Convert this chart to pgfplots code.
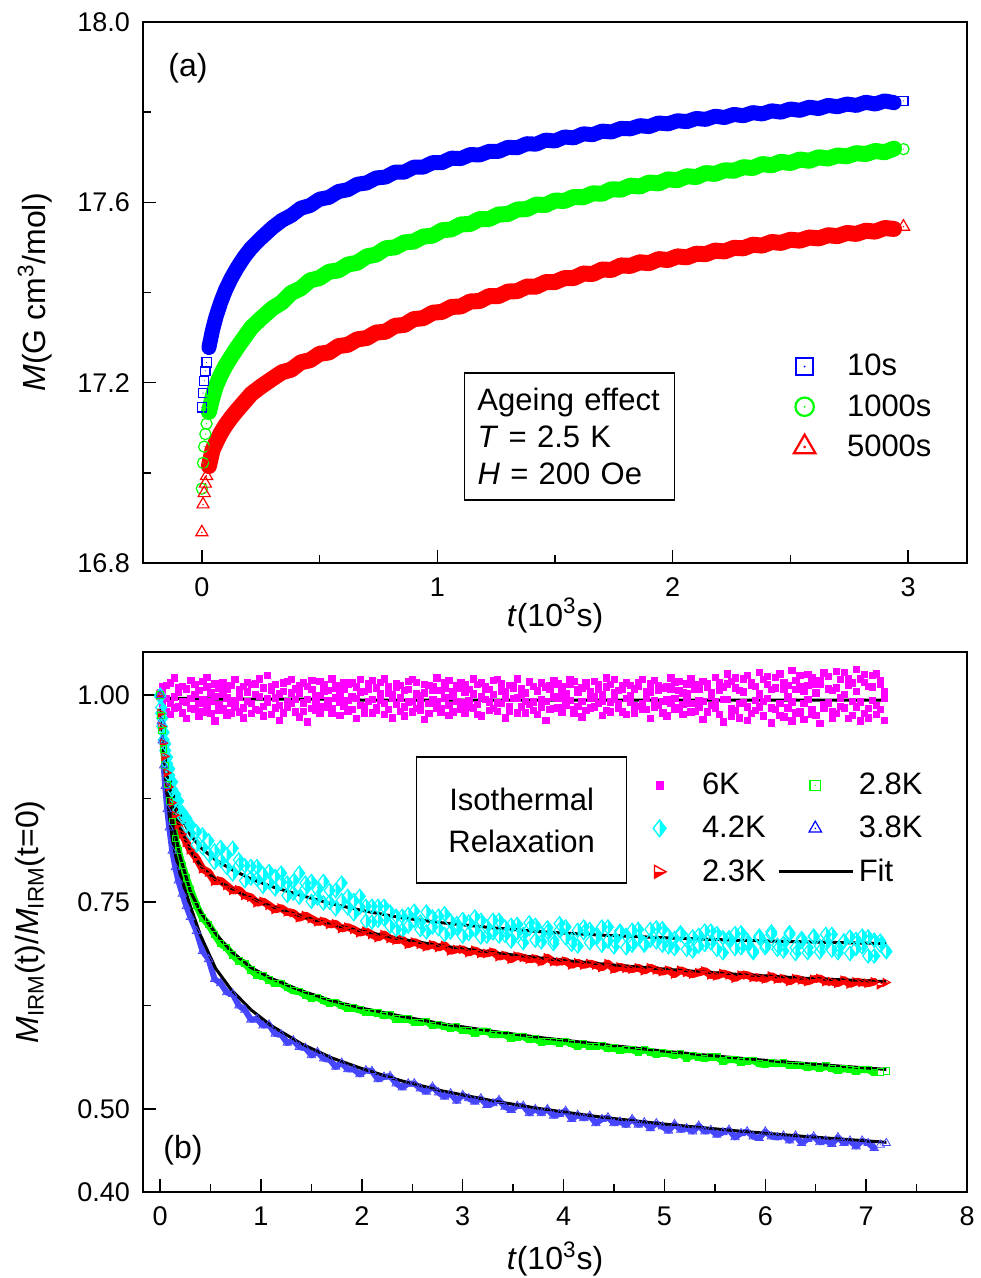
\documentclass[border=0pt]{standalone}
\usepackage{fontspec}
\setmainfont{Liberation Sans}
\usepackage{pgfplots}
\usepackage{pgfplotstable}
\pgfplotsset{compat=1.18}
\definecolor{mag}{RGB}{255,0,255}
\definecolor{cya}{RGB}{0,255,255}
\definecolor{grn}{RGB}{0,255,0}
\definecolor{lblue}{RGB}{70,70,255}

\pgfdeclareplotmark{sqdot}{%
  \pgfpathrectangle{\pgfpoint{-\pgfplotmarksize}{-\pgfplotmarksize}}{\pgfpoint{2\pgfplotmarksize}{2\pgfplotmarksize}}%
  \pgfusepathqstroke
  \pgfpathcircle{\pgfpointorigin}{0.12\pgfplotmarksize}\pgfusepathqfill}
\pgfdeclareplotmark{cdot}{%
  \pgfpathcircle{\pgfpointorigin}{\pgfplotmarksize}\pgfusepathqstroke
  \pgfpathcircle{\pgfpointorigin}{0.12\pgfplotmarksize}\pgfusepathqfill}
\pgfdeclareplotmark{tdot}{%
  \pgfpathmoveto{\pgfpointpolar{90}{\pgfplotmarksize}}%
  \pgfpathlineto{\pgfpointpolar{-30}{\pgfplotmarksize}}%
  \pgfpathlineto{\pgfpointpolar{210}{\pgfplotmarksize}}%
  \pgfpathclose\pgfusepathqstroke
  \pgfpathcircle{\pgfpointorigin}{0.12\pgfplotmarksize}\pgfusepathqfill}
\pgfdeclareplotmark{hdiamond}{%
  \pgfpathmoveto{\pgfpoint{0pt}{1.3\pgfplotmarksize}}%
  \pgfpathlineto{\pgfpoint{\pgfplotmarksize}{0pt}}%
  \pgfpathlineto{\pgfpoint{0pt}{-1.3\pgfplotmarksize}}%
  \pgfpathclose\pgfusepathqfill
  \pgfpathmoveto{\pgfpoint{0pt}{1.3\pgfplotmarksize}}%
  \pgfpathlineto{\pgfpoint{\pgfplotmarksize}{0pt}}%
  \pgfpathlineto{\pgfpoint{0pt}{-1.3\pgfplotmarksize}}%
  \pgfpathlineto{\pgfpoint{-\pgfplotmarksize}{0pt}}%
  \pgfpathclose\pgfusepathqstroke}
\pgfdeclareplotmark{htri}{%
  \pgfpathmoveto{\pgfpoint{-0.8\pgfplotmarksize}{0pt}}%
  \pgfpathlineto{\pgfpoint{\pgfplotmarksize}{0pt}}%
  \pgfpathlineto{\pgfpoint{-0.8\pgfplotmarksize}{-\pgfplotmarksize}}%
  \pgfpathclose\pgfusepathqfill
  \pgfpathmoveto{\pgfpoint{-0.8\pgfplotmarksize}{\pgfplotmarksize}}%
  \pgfpathlineto{\pgfpoint{\pgfplotmarksize}{0pt}}%
  \pgfpathlineto{\pgfpoint{-0.8\pgfplotmarksize}{-\pgfplotmarksize}}%
  \pgfpathclose\pgfusepathqstroke}

\pgfplotstableread{
t b g r
0 17.145 16.965 16.868
0.005 17.177 17.022 16.930
0.01 17.204 17.058 16.955
0.015 17.226 17.086 16.976
0.02 17.245 17.109 16.993
0.03 17.278 17.135 17.015
0.045 17.316 17.167 17.050
0.06 17.346 17.193 17.067
0.08 17.378 17.217 17.088
0.10 17.405 17.237 17.105
0.125 17.432 17.258 17.123
0.15 17.455 17.278 17.139
0.18 17.479 17.300 17.157
0.21 17.499 17.322 17.175
0.25 17.520 17.342 17.191
0.30 17.544 17.365 17.209
0.34 17.560 17.378 17.223
0.38 17.571 17.399 17.229
0.42 17.587 17.409 17.245
0.46 17.593 17.427 17.250
0.50 17.607 17.432 17.264
0.54 17.611 17.446 17.267
0.58 17.624 17.449 17.281
0.62 17.628 17.462 17.284
0.66 17.640 17.466 17.296
0.70 17.643 17.480 17.299
0.74 17.654 17.484 17.311
0.78 17.656 17.498 17.313
0.82 17.667 17.500 17.326
0.86 17.667 17.511 17.328
0.90 17.678 17.513 17.341
0.94 17.678 17.524 17.343
0.98 17.688 17.526 17.355
1.02 17.688 17.538 17.357
1.06 17.698 17.540 17.368
1.10 17.697 17.551 17.369
1.14 17.706 17.552 17.380
1.18 17.705 17.563 17.381
1.22 17.713 17.563 17.392
1.26 17.713 17.573 17.392
1.30 17.722 17.574 17.402
1.34 17.721 17.584 17.403
1.38 17.730 17.585 17.413
1.42 17.729 17.595 17.413
1.46 17.738 17.594 17.423
1.50 17.736 17.604 17.423
1.54 17.745 17.603 17.432
1.58 17.743 17.612 17.432
1.62 17.752 17.611 17.442
1.66 17.750 17.620 17.441
1.70 17.758 17.619 17.451
1.74 17.756 17.629 17.450
1.78 17.764 17.628 17.460
1.82 17.763 17.637 17.459
1.86 17.770 17.635 17.467
1.90 17.768 17.644 17.465
1.94 17.776 17.642 17.474
1.98 17.774 17.651 17.472
2.02 17.781 17.649 17.480
2.06 17.779 17.658 17.478
2.10 17.786 17.656 17.486
2.14 17.784 17.665 17.485
2.18 17.791 17.663 17.493
2.22 17.788 17.671 17.491
2.26 17.795 17.670 17.499
2.30 17.792 17.678 17.498
2.34 17.799 17.676 17.506
2.38 17.796 17.685 17.504
2.42 17.803 17.682 17.512
2.46 17.800 17.690 17.510
2.50 17.807 17.687 17.517
2.54 17.804 17.695 17.515
2.58 17.811 17.692 17.522
2.62 17.808 17.700 17.520
2.66 17.815 17.697 17.527
2.70 17.812 17.704 17.525
2.74 17.818 17.702 17.532
2.78 17.815 17.709 17.530
2.82 17.822 17.707 17.537
2.86 17.818 17.714 17.535
2.90 17.825 17.711 17.543
2.94 17.821 17.719 17.541
2.98 17.825 17.718 17.546
}\topdata

\pgfplotstableread{
t cy1 cy2 rd gr bl
0 1.000 0.998 1.000 1.000 1.000
0.01 0.985 0.978 0.978 0.975 0.968
0.02 0.972 0.962 0.962 0.957 0.945
0.035 0.955 0.946 0.942 0.935 0.915
0.05 0.941 0.933 0.926 0.915 0.890
0.07 0.925 0.917 0.906 0.892 0.862
0.09 0.911 0.903 0.889 0.872 0.840
0.12 0.895 0.886 0.870 0.847 0.812
0.15 0.880 0.874 0.855 0.827 0.792
0.18 0.872 0.861 0.843 0.812 0.776
0.22 0.858 0.853 0.832 0.794 0.760
0.26 0.851 0.842 0.822 0.779 0.745
0.30 0.843 0.833 0.813 0.765 0.732
0.36 0.835 0.819 0.803 0.746 0.715
0.42 0.816 0.831 0.790 0.731 0.691
0.48 0.824 0.808 0.786 0.723 0.681
0.54 0.798 0.812 0.775 0.711 0.657
0.60 0.816 0.801 0.776 0.700 0.652
0.66 0.792 0.807 0.770 0.695 0.641
0.72 0.815 0.784 0.764 0.686 0.639
0.78 0.794 0.801 0.765 0.679 0.625
0.84 0.776 0.794 0.758 0.676 0.620
0.90 0.793 0.779 0.756 0.668 0.608
0.96 0.778 0.793 0.749 0.662 0.609
1.02 0.784 0.769 0.751 0.661 0.601
1.08 0.787 0.774 0.746 0.656 0.602
1.14 0.766 0.781 0.741 0.652 0.591
1.20 0.774 0.785 0.743 0.652 0.590
1.26 0.758 0.773 0.738 0.647 0.580
1.32 0.775 0.761 0.737 0.643 0.583
1.38 0.785 0.756 0.731 0.642 0.575
1.44 0.766 0.773 0.734 0.638 0.574
1.50 0.751 0.775 0.730 0.634 0.565
1.56 0.765 0.755 0.726 0.635 0.569
1.62 0.775 0.749 0.727 0.631 0.561
1.68 0.750 0.764 0.723 0.628 0.560
1.74 0.764 0.742 0.724 0.629 0.551
1.80 0.773 0.752 0.718 0.625 0.556
1.86 0.743 0.757 0.720 0.622 0.548
1.92 0.752 0.736 0.717 0.622 0.548
1.98 0.757 0.744 0.713 0.620 0.542
2.04 0.745 0.727 0.715 0.617 0.547
2.10 0.745 0.726 0.711 0.617 0.546
2.16 0.728 0.745 0.707 0.616 0.536
2.22 0.745 0.730 0.711 0.613 0.539
2.28 0.721 0.738 0.706 0.614 0.540
2.34 0.733 0.717 0.704 0.609 0.531
2.40 0.716 0.733 0.705 0.609 0.526
2.46 0.735 0.721 0.699 0.609 0.531
2.52 0.728 0.739 0.702 0.605 0.531
2.58 0.717 0.726 0.699 0.605 0.525
2.64 0.738 0.714 0.696 0.606 0.521
2.70 0.720 0.732 0.699 0.601 0.527
2.76 0.733 0.718 0.695 0.602 0.520
2.82 0.711 0.736 0.698 0.600 0.515
2.88 0.727 0.714 0.691 0.598 0.519
2.94 0.719 0.724 0.693 0.599 0.510
3.00 0.729 0.709 0.693 0.595 0.517
3.06 0.712 0.726 0.689 0.595 0.513
3.12 0.732 0.717 0.692 0.592 0.509
3.18 0.708 0.728 0.688 0.594 0.513
3.24 0.720 0.709 0.688 0.594 0.505
3.30 0.728 0.713 0.690 0.590 0.507
3.36 0.709 0.728 0.684 0.590 0.511
3.42 0.720 0.710 0.686 0.590 0.503
3.48 0.703 0.722 0.681 0.586 0.499
3.54 0.723 0.713 0.685 0.587 0.504
3.60 0.711 0.701 0.683 0.588 0.504
3.66 0.725 0.718 0.681 0.584 0.495
3.72 0.704 0.722 0.682 0.585 0.500
3.78 0.712 0.702 0.678 0.581 0.495
3.84 0.719 0.714 0.683 0.582 0.500
3.90 0.700 0.704 0.678 0.582 0.492
3.96 0.716 0.724 0.678 0.580 0.494
4.02 0.720 0.707 0.679 0.582 0.498
4.08 0.704 0.699 0.674 0.579 0.488
4.14 0.697 0.716 0.677 0.576 0.493
4.20 0.713 0.720 0.674 0.579 0.489
4.26 0.717 0.701 0.676 0.576 0.492
4.32 0.708 0.710 0.674 0.576 0.483
4.38 0.698 0.720 0.671 0.577 0.488
4.44 0.720 0.703 0.676 0.573 0.490
4.50 0.703 0.696 0.669 0.574 0.483
4.56 0.713 0.715 0.672 0.571 0.485
4.62 0.695 0.710 0.670 0.572 0.481
4.68 0.716 0.698 0.669 0.572 0.488
4.74 0.708 0.717 0.671 0.569 0.481
4.80 0.698 0.700 0.667 0.572 0.484
4.86 0.717 0.704 0.671 0.569 0.477
4.92 0.702 0.719 0.668 0.566 0.483
4.98 0.718 0.698 0.666 0.568 0.479
5.04 0.696 0.709 0.668 0.567 0.474
5.10 0.706 0.694 0.663 0.565 0.482
5.16 0.711 0.713 0.668 0.567 0.475
5.22 0.693 0.704 0.665 0.562 0.477
5.28 0.708 0.691 0.663 0.565 0.473
5.34 0.697 0.710 0.665 0.563 0.480
5.40 0.715 0.699 0.667 0.561 0.473
5.46 0.701 0.715 0.662 0.563 0.475
5.52 0.712 0.693 0.661 0.563 0.469
5.58 0.689 0.707 0.664 0.558 0.472
5.64 0.707 0.704 0.662 0.560 0.475
5.70 0.712 0.694 0.658 0.560 0.466
5.76 0.695 0.713 0.662 0.557 0.471
5.82 0.704 0.700 0.662 0.558 0.473
5.88 0.691 0.689 0.659 0.559 0.467
5.94 0.709 0.707 0.659 0.555 0.465
6.00 0.698 0.695 0.657 0.554 0.473
6.06 0.714 0.711 0.661 0.556 0.467
6.12 0.693 0.698 0.657 0.555 0.466
6.18 0.700 0.691 0.658 0.556 0.468
6.24 0.711 0.713 0.654 0.553 0.462
6.30 0.688 0.695 0.658 0.553 0.468
6.36 0.706 0.703 0.656 0.553 0.459
6.42 0.695 0.689 0.654 0.550 0.464
6.48 0.709 0.708 0.657 0.552 0.467
6.54 0.690 0.697 0.658 0.549 0.460
6.60 0.701 0.711 0.654 0.552 0.462
6.66 0.711 0.692 0.654 0.549 0.458
6.72 0.693 0.689 0.652 0.547 0.466
6.78 0.703 0.703 0.656 0.549 0.459
6.84 0.688 0.708 0.651 0.548 0.462
6.90 0.705 0.694 0.654 0.546 0.455
6.96 0.696 0.709 0.653 0.548 0.462
7.02 0.708 0.685 0.652 0.548 0.459
7.08 0.685 0.704 0.654 0.544 0.453
7.14 0.703 0.698 0.650 0.545 0.457
7.20 0.691 0.690 0.653 0.546 0.459
}\botdata

\pgfplotstableread{
t f6 fc fr fg fb
0 1.000 1.000 1.000 1.000 1.000
0.01 0.999 0.983 0.982 0.980 0.978
0.02 0.998 0.970 0.967 0.963 0.958
0.035 0.997 0.952 0.946 0.940 0.930
0.05 0.997 0.937 0.930 0.920 0.905
0.07 0.996 0.920 0.910 0.897 0.877
0.09 0.996 0.905 0.893 0.877 0.855
0.12 0.996 0.887 0.873 0.852 0.827
0.15 0.996 0.873 0.858 0.832 0.808
0.2 0.996 0.855 0.839 0.804 0.783
0.3 0.996 0.831 0.812 0.763 0.745
0.4 0.996 0.816 0.794 0.738 0.710
0.55 0.995 0.801 0.777 0.712 0.670
0.7 0.995 0.790 0.767 0.691 0.645
0.9 0.995 0.778 0.755 0.671 0.620
1.1 0.995 0.769 0.745 0.658 0.601
1.4 0.995 0.758 0.733 0.643 0.579
1.7 0.995 0.748 0.723 0.631 0.562
2.0 0.994 0.740 0.715 0.622 0.549
2.4 0.994 0.731 0.705 0.612 0.534
2.8 0.994 0.725 0.697 0.603 0.522
3.3 0.994 0.719 0.689 0.594 0.510
3.8 0.994 0.714 0.682 0.586 0.500
4.4 0.994 0.710 0.675 0.578 0.490
5.0 0.994 0.707 0.669 0.570 0.482
5.7 0.994 0.704 0.663 0.562 0.474
6.4 0.994 0.702 0.658 0.555 0.467
7.2 0.994 0.700 0.654 0.548 0.460
}\fitdata

\pgfplotstableread{
t m1 m2 m3
0.00 1.000 0.998 1.003
0.02 1.003 0.988 1.010
0.06 0.981 1.012 0.996
0.10 1.015 0.990 0.977
0.14 0.998 1.021 0.985
0.18 0.986 1.004 1.009
0.22 1.011 0.979 0.993
0.26 0.992 1.008 0.972
0.30 1.018 0.996 0.984
0.34 0.983 1.013 1.001
0.38 1.006 0.975 0.990
0.42 0.995 1.017 0.980
0.46 1.010 0.987 1.022
0.50 0.978 1.003 0.993
0.54 1.014 0.969 0.999
0.58 0.989 1.009 0.982
0.62 1.002 0.984 1.016
0.66 0.976 0.997 1.007
0.70 1.012 0.991 0.979
0.74 0.994 1.019 0.986
0.78 1.007 0.980 0.998
0.82 0.985 1.011 0.973
0.86 1.016 0.993 1.004
0.90 0.990 0.978 1.013
0.94 1.001 1.014 0.983
0.98 0.982 0.999 1.020
1.02 1.009 0.987 0.975
1.06 0.996 1.024 0.992
1.10 0.977 1.006 1.010
1.14 1.013 0.985 0.997
1.18 0.988 1.002 0.970
1.22 1.005 0.979 1.015
1.26 0.993 1.017 0.986
1.30 1.019 0.990 1.003
1.34 0.980 1.008 0.995
1.38 1.003 0.974 1.012
1.42 0.991 1.015 0.981
1.46 1.011 0.995 0.968
1.50 0.984 1.007 1.018
1.54 0.999 0.982 0.990
1.58 1.017 1.000 0.978
1.62 0.986 1.013 1.005
1.66 1.006 0.989 0.994
1.70 0.978 1.020 0.984
1.74 1.012 0.997 1.009
1.78 0.992 0.976 1.001
1.82 1.008 1.016 0.987
1.86 0.981 0.994 1.014
1.90 1.015 0.983 0.998
1.94 0.996 1.010 0.972
1.98 1.004 0.988 1.019
2.02 0.987 1.005 0.979
2.06 1.014 0.993 1.008
2.10 0.979 1.018 0.995
2.14 1.009 0.985 0.982
2.18 0.994 1.002 1.016
2.22 1.020 0.977 0.990
2.26 0.983 1.011 1.003
2.30 1.001 0.996 0.973
2.34 0.989 1.014 1.010
2.38 1.012 0.981 0.997
2.42 0.975 1.006 0.986
2.46 1.007 0.992 1.017
2.50 0.993 1.019 0.980
2.54 1.016 0.984 1.002
2.58 0.982 1.000 0.991
2.62 1.003 0.971 1.013
2.66 0.990 1.012 0.978
2.70 1.011 0.995 1.006
2.74 0.985 1.021 0.993
2.78 1.006 0.980 0.984
2.82 0.997 1.009 1.015
2.86 1.018 0.988 0.976
2.90 0.980 1.004 0.999
2.94 1.009 0.993 1.012
2.98 0.991 1.016 0.983
3.02 1.013 0.978 1.004
3.06 0.986 1.007 0.994
3.10 1.002 0.985 1.020
3.14 0.977 1.013 0.989
3.18 1.015 0.998 0.975
3.22 0.995 1.010 1.007
3.26 1.007 0.982 0.992
3.30 0.984 1.018 1.001
3.34 1.019 0.991 0.981
3.38 0.990 1.005 1.014
3.42 1.004 0.973 0.996
3.46 0.981 1.012 0.987
3.50 1.012 0.996 1.009
3.54 0.997 1.020 0.979
3.58 1.008 0.986 1.002
3.62 0.979 1.003 0.993
3.66 1.016 0.989 1.017
3.70 0.992 1.011 0.982
3.74 1.005 0.977 1.006
3.78 0.986 1.015 0.995
3.82 1.010 0.993 0.970
3.86 0.983 1.007 1.012
3.90 1.018 0.984 0.998
3.94 0.996 1.014 0.985
3.98 1.003 0.980 1.010
4.02 0.988 1.002 0.992
4.06 1.014 0.994 1.019
4.10 0.978 1.017 0.983
4.14 1.007 0.987 1.004
4.18 0.993 1.009 0.974
4.22 1.011 0.982 1.015
4.26 0.985 1.005 0.996
4.30 1.017 0.998 0.986
4.34 0.990 1.013 1.008
4.38 1.001 0.976 0.993
4.42 0.982 1.010 1.021
4.46 1.013 0.992 0.980
4.50 0.995 1.019 1.003
4.54 1.006 0.984 0.990
4.58 0.980 1.007 1.012
4.62 1.015 0.996 0.977
4.66 0.992 1.012 1.000
4.70 1.008 0.979 0.988
4.74 0.987 1.016 1.011
4.78 1.019 0.990 0.983
4.82 0.983 1.004 0.997
4.86 1.004 0.972 1.014
4.90 0.994 1.018 0.986
4.94 1.012 0.988 1.006
4.98 0.979 1.009 0.993
5.02 1.010 0.995 0.975
5.06 0.990 1.021 1.008
5.10 1.016 0.983 0.996
5.14 0.985 1.006 1.017
5.18 1.003 0.977 0.989
5.22 0.997 1.014 1.002
5.26 1.020 0.990 0.980
5.30 0.981 1.008 1.013
5.34 1.008 0.986 0.994
5.38 0.993 1.017 0.971
5.42 1.014 0.980 1.010
5.46 0.988 1.003 0.999
5.50 1.022 0.992 0.984
5.54 0.977 1.015 1.006
5.58 1.010 0.968 0.995
5.62 0.995 1.026 1.014
5.66 1.017 0.984 0.975
5.70 0.982 1.009 1.021
5.74 1.006 0.973 0.990
5.78 0.991 1.020 1.004
5.82 1.024 0.986 0.970
5.86 0.978 1.012 1.016
5.90 1.011 0.994 0.982
5.94 0.986 1.028 1.002
5.98 1.019 0.975 0.993
6.02 0.996 1.013 1.023
6.06 1.007 0.967 0.985
6.10 0.983 1.022 1.009
6.14 1.026 0.990 0.976
6.18 0.974 1.008 1.015
6.22 1.012 0.985 0.998
6.26 0.992 1.030 0.969
6.30 1.018 0.979 1.007
6.34 0.980 1.011 1.024
6.38 1.005 0.971 0.990
6.42 0.995 1.025 1.012
6.46 1.021 0.983 0.977
6.50 0.976 1.014 1.003
6.54 1.013 0.966 1.018
6.58 0.989 1.027 0.984
6.62 1.023 0.991 1.008
6.66 0.981 1.006 0.972
6.70 1.009 0.978 1.029
6.74 0.997 1.019 0.987
6.78 1.028 0.985 1.001
6.82 0.972 1.012 1.020
6.86 1.015 0.993 0.976
6.90 0.986 1.031 1.005
6.94 1.020 0.969 0.992
6.98 0.978 1.016 1.025
7.02 1.011 0.984 0.973
7.06 0.994 1.024 1.010
7.10 1.026 0.977 0.988
7.14 0.983 1.013 1.018
7.18 1.004 0.970 0.996
}\magdata

\pgfplotsset{
  panel/.style={
    scale only axis, width=412pt,
    axis line style={line width=1pt},
    tick align=inside, xtick pos=left, ytick pos=left,
    major tick length=6.5pt, minor tick length=4pt,
    major tick style={line width=0.75pt, black},
    minor tick style={line width=0.75pt, black},
    tick label style={font=\fontsize{13.5}{16}\selectfont},
    xticklabel style={yshift=-4pt},
    yticklabel style={xshift=-3pt},
    /pgf/number format/assume math mode=true,
    legend image code/.code={\path (0pt,0pt) -- (37pt,0pt);
      \draw[mark repeat=2,mark phase=2,##1] plot coordinates {(0pt,0pt) (18pt,0pt) (37pt,0pt)};},
    legend cell align=left,
  },
}

\begin{document}
\begin{tikzpicture}
\useasboundingbox (-71.5pt,-357.5pt) rectangle (418.5pt,281.5pt);

\begin{axis}[panel, at={(0pt,0pt)}, anchor=south west, height=270.5pt,
  xmin=-0.25, xmax=3.25, ymin=16.8, ymax=18.0,
  xtick={0,1,2,3}, xticklabels={0,1,2,3}, minor xtick={0.5,1.5,2.5},
  ytick={16.8,17.2,17.6,18.0}, yticklabels={16.8,17.2,17.6,18.0}, minor ytick={17.0,17.4,17.8},
  xlabel={\textit{t}(10\textsuperscript{3}s)},
  ylabel={\textit{M}(G cm\textsuperscript{3}/mol)},
  every axis x label/.style={at={(axis description cs:0.5,-0.0972)}, anchor=center, font=\fontsize{16}{19}\selectfont},
  every axis y label/.style={at={(axis description cs:-0.131,0.5)}, anchor=center, rotate=90, font=\fontsize{16}{19}\selectfont},
  legend style={at={(0.751,0.4015)}, anchor=north west, draw=none, fill=none,
     font=\fontsize{15.5}{18}\selectfont, row sep=3.8pt},
]
\addplot[forget plot, blue, line width=7.5pt, line cap=round, line join=round, restrict x to domain=0.025:2.95] table[x=t,y=b]{\topdata};
\addplot[forget plot, only marks, blue, mark=sqdot, mark size=2.3pt, mark options={line width=0.6pt}] table[x=t,y=b]{\topdata};
\addplot[forget plot, grn, line width=8pt, line cap=round, line join=round, restrict x to domain=0.025:2.95] table[x=t,y=g]{\topdata};
\addplot[forget plot, only marks, grn, mark=cdot, mark size=2.8pt, mark options={line width=0.6pt}] table[x=t,y=g]{\topdata};
\addplot[forget plot, red, line width=8pt, line cap=round, line join=round, restrict x to domain=0.025:2.95] table[x=t,y=r]{\topdata};
\addplot[forget plot, only marks, red, mark=tdot, mark size=3.5pt, mark options={line width=0.6pt}] table[x=t,y=r]{\topdata};

\addlegendimage{draw opacity=0, blue, mark=sqdot, mark size=4.25pt, mark options={draw opacity=1, line width=1.1pt}}
\addlegendentry{10s}
\addlegendimage{draw opacity=0, grn, mark=cdot, mark size=4.6pt, mark options={draw opacity=1, line width=1.1pt}}
\addlegendentry{1000s}
\addlegendimage{draw opacity=0, red, mark=tdot, mark size=6.2pt, mark options={draw opacity=1, line width=1.1pt}}
\addlegendentry{5000s}

\node[font=\fontsize{16}{19}\selectfont] at (rel axis cs:0.0546,0.915) {(a)};
\node[draw, line width=0.6pt, align=left, text width=92pt, minimum height=63.5pt, inner xsep=6.5pt,
  font=\fontsize{15.5}{18.7}\selectfont] at (rel axis cs:0.5176,0.2338)
  {Ageing effect\\\textit{T} = 2.5 K\\\textit{H} = 200 Oe};
\end{axis}

\begin{axis}[panel, at={(0pt,-314.5pt)}, anchor=south west, height=270pt,
  xmin=-0.17, xmax=8, ymin=0.40, ymax=1.052,
  xtick={0,1,2,3,4,5,6,7,8}, xticklabels={0,1,2,3,4,5,6,7,8},
  minor xtick={0.5,1.5,2.5,3.5,4.5,5.5,6.5,7.5},
  ytick={0.40,0.50,0.75,1.00}, yticklabels={0.40,0.50,0.75,1.00}, minor ytick={0.625,0.875},
  xlabel={\textit{t}(10\textsuperscript{3}s)},
  ylabel={\textit{M}\textsubscript{IRM}(t)/\textit{M}\textsubscript{IRM}(t=0)},
  every axis x label/.style={at={(axis description cs:0.5,-0.124)}, anchor=center, font=\fontsize{16}{19}\selectfont},
  every axis y label/.style={at={(axis description cs:-0.137,0.5)}, anchor=center, rotate=90, font=\fontsize{16}{19}\selectfont},
  legend columns=2,
  legend style={at={(0.575,0.7915)}, anchor=north west, draw=none, fill=none,
     font=\fontsize{15.5}{18}\selectfont, row sep=5.2pt,
     /tikz/every even column/.append style={column sep=4pt}},
]
\addplot[forget plot, only marks, mark=square*, mag, mark size=1.6pt, mark options={line width=0.1pt}] table[x=t,y=m1]{\magdata};
\addplot[forget plot, only marks, mark=square*, mag, mark size=1.6pt, mark options={line width=0.1pt}] table[x=t,y=m2]{\magdata};
\addplot[forget plot, only marks, mark=square*, mag, mark size=1.6pt, mark options={line width=0.1pt}] table[x=t,y=m3]{\magdata};

\addplot[forget plot, only marks, mark=hdiamond, cya, mark size=2.7pt, mark options={line width=0.6pt}] table[x=t,y=cy1]{\botdata};
\addplot[forget plot, only marks, mark=hdiamond, cya, mark size=2.7pt, mark options={line width=0.6pt}] table[x=t,y=cy2]{\botdata};

\addplot[forget plot, red, line width=3.8pt, line join=round, line cap=round, restrict x to domain=0.03:7.1] table[x=t,y=rd]{\botdata};
\addplot[forget plot, only marks, mark=htri, red, mark size=2pt, mark options={line width=0.5pt}] table[x=t,y=rd]{\botdata};

\addplot[forget plot, grn, line width=3.6pt, line join=round, line cap=round, restrict x to domain=0.03:7.1] table[x=t,y=gr]{\botdata};
\addplot[forget plot, only marks, mark=sqdot, grn, mark size=1.6pt, mark options={line width=0.5pt}] table[x=t,y=gr]{\botdata};

\addplot[forget plot, lblue, line width=3pt, line join=round, line cap=round, restrict x to domain=0.03:7.1] table[x=t,y=bl]{\botdata};
\addplot[forget plot, only marks, mark=tdot, lblue, mark size=2.4pt, mark options={line width=0.4pt}] table[x=t,y=bl]{\botdata};

\addplot[forget plot, black, line width=1.5pt] table[x=t,y=f6]{\fitdata};
\addplot[forget plot, black, line width=1.5pt] table[x=t,y=fc]{\fitdata};
\addplot[forget plot, black, line width=1.5pt] table[x=t,y=fr]{\fitdata};
\addplot[forget plot, black, line width=1.5pt] table[x=t,y=fg]{\fitdata};
\addplot[forget plot, black, line width=1.5pt] table[x=t,y=fb]{\fitdata};

\addlegendimage{draw opacity=0, mark=square*, mag, mark size=1.8pt, mark options={draw opacity=1}}
\addlegendentry{6K}
\addlegendimage{draw opacity=0, mark=sqdot, grn, mark size=2.6pt, mark options={draw opacity=1, line width=0.6pt}}
\addlegendentry{2.8K}
\addlegendimage{draw opacity=0, mark=hdiamond, cya, mark size=3.2pt, mark options={draw opacity=1, line width=0.7pt}}
\addlegendentry{4.2K}
\addlegendimage{draw opacity=0, mark=tdot, blue, mark size=3.6pt, mark options={draw opacity=1, line width=0.6pt}}
\addlegendentry{3.8K}
\addlegendimage{draw opacity=0, mark=htri, red, mark size=3.2pt, mark options={draw opacity=1, line width=0.7pt}}
\addlegendentry{2.3K}
\addlegendimage{black, line width=1.5pt}
\addlegendentry{Fit}

\node[font=\fontsize{16}{19}\selectfont] at (rel axis cs:0.0485,0.0778) {(b)};
\node[draw, line width=0.6pt, align=center, text width=92pt, minimum height=63pt, inner xsep=6.5pt,
  font=\fontsize{15.5}{21}\selectfont] at (rel axis cs:0.4596,0.689)
  {Isothermal\\Relaxation};
\end{axis}
\end{tikzpicture}
\end{document}
